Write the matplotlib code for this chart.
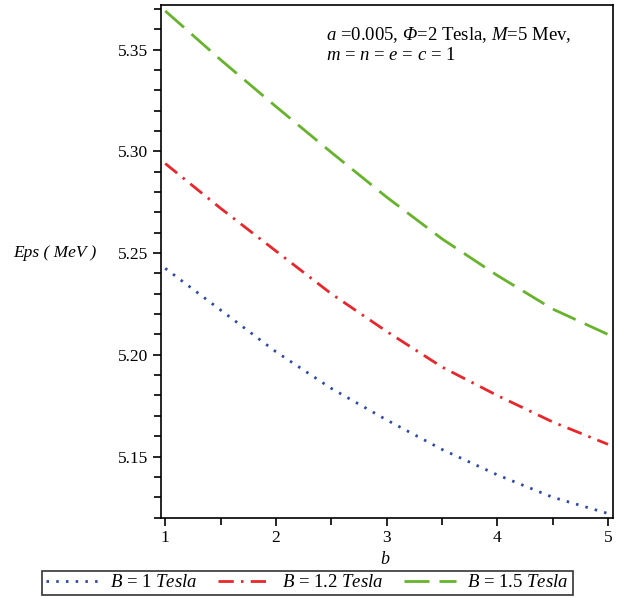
import matplotlib.pyplot as plt
import numpy as np

plt.rcParams['font.family'] = ['Liberation Serif', 'DejaVu Serif']
plt.rcParams['mathtext.fontset'] = 'custom'
plt.rcParams['mathtext.rm'] = 'Liberation Serif'
plt.rcParams['mathtext.it'] = 'Liberation Serif:italic'
# italic Greek capital goes through the sf slot
plt.rcParams['mathtext.sf'] = 'Liberation Serif:italic'

# values
b = [1.0, 1.5, 2.0, 2.5, 3.0, 3.5, 4.0, 4.5, 5.0]
eps_b1 = [5.2425, 5.222, 5.2015, 5.1835, 5.168, 5.1535, 5.141, 5.130, 5.122]
eps_b12 = [5.294, 5.272, 5.251, 5.230, 5.2115, 5.194, 5.180, 5.167, 5.156]
eps_b15 = [5.369, 5.345, 5.322, 5.2995, 5.2775, 5.257, 5.239, 5.2225, 5.210]
labels = ["$B$ = 1 $Tesla$", "$B$ = 1.2 $Tesla$", "$B$ = 1.5 $Tesla$"]

fig = plt.figure(figsize=(6.21, 5.98), dpi=100)
ax = fig.add_axes([0.2593, 0.1338, 0.7278, 0.8578])

l1, = ax.plot(b, eps_b1, color="#2e4aa6", lw=2.0, dashes=(0.9, 2.6))
l2, = ax.plot(b, eps_b12, color="#e8262b", lw=2.0, dashes=(5.5, 2.6, 0.9, 2.6))
l3, = ax.plot(b, eps_b15, color="#67b32b", lw=2.0, dashes=(9, 3.6))

ax.set_xlim(0.962, 5.045)
ax.set_ylim(5.1198, 5.3719)
ax.set_xticks([1, 2, 3, 4, 5])
ax.set_xticks(np.arange(1.5, 5, 1.0), minor=True)
ax.set_yticks([5.15, 5.20, 5.25, 5.30, 5.35])
ax.set_yticks(np.arange(5.12, 5.372, 0.01), minor=True)
ax.set_yticklabels(["5.15", "5.20", "5.25", "5.30", "5.35"])
ax.tick_params(axis='both', which='major', length=6, width=1.2, labelsize=12.5, pad=3)
ax.tick_params(axis='both', which='minor', length=5, width=1.2)
for s in ax.spines.values():
    s.set_linewidth(1.2)

fig.text(0.021, 1 - 253 / 598, "Eps ( MeV )", fontsize=12.5, style='italic',
         va='center', ha='left')
fig.text(385 / 621, 1 - 560 / 598, "b", fontsize=13, style='italic',
         va='center', ha='center')

fig.text(326 / 621, 1 - 35 / 598,
         r"$a$ =0.005, $\mathsf{\Phi}$=2 Tesla, $M$=5 Mev,", fontsize=13.5,
         va='center', ha='left')
fig.text(326 / 621, 1 - 55 / 598, r"$m$ = $n$ = $e$ = $c$ = 1", fontsize=13.5,
         va='center', ha='left')

leg = fig.legend([l1, l2, l3], labels, loc='lower center', ncol=3,
                 bbox_to_anchor=(0.495, 0.0), fontsize=13.5, frameon=True,
                 fancybox=False, edgecolor='black', handlelength=2.8,
                 columnspacing=1.1, handletextpad=0.6, borderpad=0.2,
                 borderaxespad=0.15)
leg.get_frame().set_linewidth(1.2)

fig.savefig("out.png", dpi=100)
